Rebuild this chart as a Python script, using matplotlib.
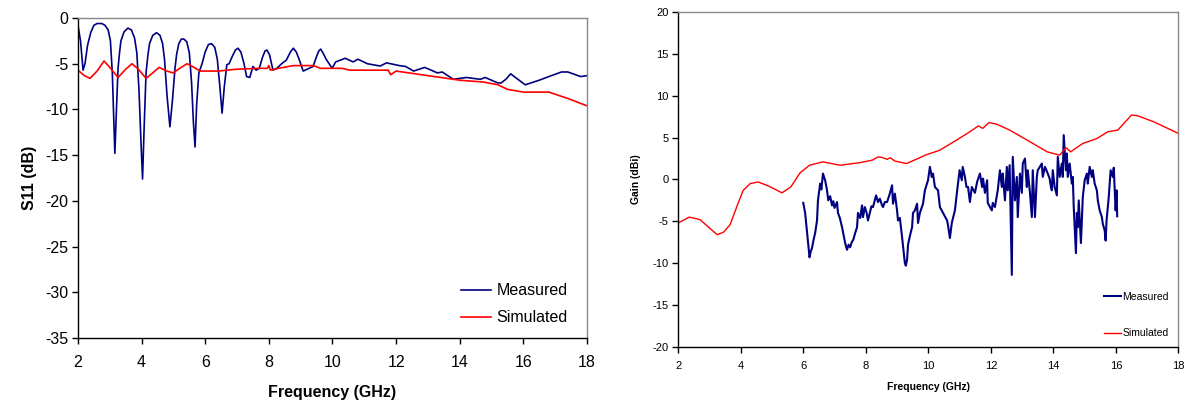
import matplotlib.pyplot as plt
import numpy as np

plt.rcParams['font.family'] = ['Liberation Sans', 'DejaVu Sans']
plt.rcParams['axes.unicode_minus'] = False

NAVY = '#000080'
RED = '#ff0000'

# ---- return loss (left) ----
s11_meas_f = [2.0, 2.08, 2.16, 2.22, 2.3, 2.4, 2.5, 2.6, 2.75, 2.85, 2.95, 3.02, 3.08, 3.12, 3.16,
              3.21, 3.26, 3.3, 3.35, 3.45, 3.57, 3.68, 3.78, 3.85, 3.92, 3.98, 4.03, 4.08,
              4.14, 4.2, 4.25, 4.35, 4.47, 4.58, 4.66, 4.72, 4.8, 4.89, 4.97, 5.05, 5.1,
              5.17, 5.25, 5.33, 5.42, 5.5, 5.57, 5.63, 5.68, 5.73, 5.8, 5.9, 6.0, 6.1, 6.2,
              6.3, 6.38, 6.46, 6.53, 6.6, 6.68, 6.75, 6.85, 6.95, 7.03, 7.12, 7.22, 7.3,
              7.4, 7.5, 7.6, 7.7, 7.8, 7.88, 7.94, 8.02, 8.13, 8.25, 8.4, 8.55, 8.68, 8.77,
              8.86, 8.95, 9.08, 9.2, 9.39, 9.5, 9.57, 9.63, 9.7, 9.8, 9.99, 10.1, 10.4,
              10.65, 10.8, 11.1, 11.5, 11.7, 12.1, 12.3, 12.55, 12.9, 13.3, 13.45, 13.8,
              14.2, 14.65, 14.8, 15.2, 15.3, 15.45, 15.6, 15.75, 16.06, 16.5, 16.8, 17.2,
              17.4, 17.8, 18.0]
s11_meas = [-0.8, -2.5, -5.7, -5.0, -3.0, -1.6, -0.8, -0.6, -0.6, -0.8, -1.3, -2.5, -6.0, -10.5, -14.8,
            -10.0, -5.5, -4.0, -2.5, -1.5, -1.1, -1.3, -2.2, -3.8, -8.0, -13.5, -17.6, -12.0,
            -6.0, -4.0, -2.8, -1.9, -1.6, -1.9, -2.8, -4.5, -8.5, -11.9, -9.0, -5.5, -4.0,
            -2.8, -2.3, -2.3, -2.6, -3.8, -7.0, -11.5, -14.1, -9.5, -6.0, -5.0, -3.7, -2.9, -2.8,
            -3.2, -4.5, -7.5, -10.4, -7.5, -5.1, -5.0, -4.2, -3.5, -3.3, -3.7, -5.0, -6.4,
            -6.5, -5.3, -5.7, -5.5, -4.3, -3.6, -3.5, -4.0, -5.7, -5.5, -5.0, -4.6, -3.7, -3.3,
            -3.7, -4.5, -5.8, -5.6, -5.3, -4.2, -3.6, -3.4, -3.8, -4.5, -5.5, -4.8, -4.4,
            -4.8, -4.5, -5.0, -5.25, -4.9, -5.2, -5.3, -5.8, -5.4, -6.0, -5.9, -6.7,
            -6.5, -6.7, -6.5, -7.1, -7.1, -6.7, -6.1, -6.5, -7.3, -6.8, -6.4, -5.9,
            -5.9, -6.4, -6.3]

s11_sim_f = [2.0, 2.2, 2.38, 2.6, 2.82, 3.0, 3.26, 3.5, 3.7, 3.9, 4.14, 4.35, 4.55, 4.8, 4.99,
             5.2, 5.43, 5.65, 5.84, 6.4, 6.97, 7.7, 7.95, 8.0, 8.05, 8.3, 8.77, 9.4, 9.63,
             10.3, 10.55, 11.5, 11.75, 11.83, 12.0, 12.4, 13.2, 14.0, 14.75, 15.2, 15.5,
             16.0, 16.8, 17.4, 18.0]
s11_sim = [-5.7, -6.3, -6.6, -5.8, -4.7, -5.4, -6.5, -5.6, -5.0, -5.6, -6.6, -6.0, -5.4, -5.8, -6.0,
           -5.5, -5.0, -5.4, -5.8, -5.8, -5.6, -5.5, -5.5, -5.2, -5.7, -5.5, -5.2, -5.2, -5.5,
           -5.5, -5.7, -5.7, -5.7, -6.2, -5.8, -6.0, -6.4, -6.8, -7.0, -7.3, -7.8,
           -8.1, -8.1, -8.8, -9.6]

# ---- gain (right) ----
gain_sim_f = [2.0, 2.35, 2.7, 3.0, 3.25, 3.45, 3.66, 3.9, 4.08, 4.3, 4.56, 4.9, 5.32, 5.6, 5.9,
              6.2, 6.63, 6.9, 7.18, 7.8, 8.2, 8.4, 8.55, 8.68, 8.78, 8.93, 9.3, 9.73, 9.9,
              10.37, 10.9, 11.33, 11.6, 11.74, 11.94, 12.19, 12.6, 13.25, 13.8, 14.2, 14.4,
              14.55, 14.94, 15.4, 15.74, 16.06, 16.5, 16.7, 17.2, 18.0]
gain_sim = [-5.2, -4.5, -4.8, -5.8, -6.6, -6.3, -5.4, -3.0, -1.3, -0.5, -0.3, -0.8, -1.6, -0.9, 0.8,
            1.7, 2.1, 1.9, 1.7, 2.0, 2.3, 2.7, 2.6, 2.4, 2.6, 2.2, 1.9, 2.6, 2.9,
            3.5, 4.7, 5.7, 6.4, 6.1, 6.8, 6.6, 5.9, 4.5, 3.3, 2.9, 3.8,
            3.3, 4.3, 4.9, 5.7, 5.9, 7.7, 7.6, 6.9, 5.5]

gain_meas_f = [6.0, 6.06, 6.12, 6.2, 6.24, 6.28, 6.33, 6.38, 6.44, 6.47, 6.54, 6.58, 6.63, 6.7,
               6.76, 6.8, 6.86, 6.92, 6.96, 7.0, 7.08, 7.11, 7.17, 7.24, 7.34, 7.4, 7.45, 7.5,
               7.55, 7.6, 7.66, 7.72, 7.75, 7.82, 7.88, 7.91, 7.97, 8.02, 8.07, 8.13, 8.18,
               8.23, 8.33, 8.39, 8.45, 8.52, 8.55, 8.61, 8.68, 8.76, 8.84, 8.87, 8.93, 9.0,
               9.03, 9.09, 9.16, 9.25, 9.28, 9.32, 9.35, 9.42, 9.48, 9.51, 9.57, 9.64, 9.67,
               9.73, 9.83, 9.89, 9.99, 10.05, 10.11, 10.15, 10.21, 10.31, 10.37, 10.47, 10.6,
               10.63, 10.69, 10.75, 10.85, 10.91, 11.0, 11.07, 11.1, 11.17, 11.22, 11.27,
               11.33, 11.39, 11.49, 11.56, 11.65, 11.72, 11.75, 11.81, 11.88, 11.9, 12.03,
               12.06, 12.13, 12.22, 12.29, 12.35, 12.38, 12.45, 12.51, 12.54, 12.6, 12.67,
               12.7, 12.77, 12.83, 12.86, 12.93, 12.99, 13.02, 13.09, 13.15, 13.18, 13.25,
               13.31, 13.34, 13.41, 13.47, 13.5, 13.63, 13.66, 13.73, 13.82, 13.88, 13.92,
               13.95, 13.98, 14.04, 14.11, 14.14, 14.2, 14.27, 14.3, 14.33, 14.4, 14.43,
               14.46, 14.52, 14.59, 14.62, 14.65, 14.72, 14.75, 14.78, 14.81, 14.88, 14.91,
               14.94, 15.0, 15.07, 15.1, 15.16, 15.23, 15.26, 15.32, 15.39, 15.42, 15.48,
               15.55, 15.58, 15.64, 15.67, 15.7, 15.77, 15.83, 15.9, 15.93, 15.96, 15.99,
               16.02, 16.04]
gain_meas = [-2.8, -4.0, -6.3, -9.3, -8.6, -8.2, -7.2, -6.4, -4.9, -2.5, -0.5, -1.2, 0.7, -0.1,
             -1.3, -2.5, -2.0, -3.1, -2.6, -3.4, -2.7, -4.0, -4.6, -5.7, -7.6, -8.4, -7.8, -8.1,
             -7.5, -7.2, -6.4, -5.7, -4.0, -4.6, -3.1, -4.5, -3.3, -3.9, -4.9, -4.0, -3.2,
             -3.3, -1.9, -2.7, -2.3, -3.1, -3.3, -2.7, -2.7, -1.8, -0.7, -2.9, -1.7, -3.7,
             -4.9, -4.6, -6.9, -10.0, -10.3, -9.6, -7.8, -6.6, -5.7, -4.0, -3.7, -2.9, -5.2,
             -4.0, -2.9, -1.3, -0.1, 1.5, 0.3, 0.7, -0.9, -1.3, -3.3, -4.0, -4.9,
             -5.5, -7.0, -5.2, -3.7, -1.7, 1.1, -0.1, 1.5, 0.3, -0.9, -0.9,
             -2.7, -0.9, -1.6, -0.3, 0.7, -0.9, 0.1, -1.6, -0.1, -2.8, -3.7,
             -2.8, -3.3, -1.3, 1.1, -0.9, 0.7, -2.5, 1.5, -1.3, 1.7, -11.4,
             2.7, -2.5, 0.3, -4.5, 0.7, -1.6, 1.9, 2.5, -0.9, 1.1, -1.6,
             -4.5, 1.1, -4.5, 0.3, 1.1, 1.9, 0.3, 1.5, 0.7, 0.1, -0.9,
             -1.3, 1.1, -0.9, -1.9, 2.7, 0.3, 1.9, 0.3, 5.3, 1.1, 3.1,
             0.3, 1.9, -0.5, 0.3, -3.3, -8.8, -4.0, -5.7, -2.5, -7.6, -4.9,
             -2.1, -0.1, 0.7, -0.5, 1.5, 0.3, 1.1, -0.5, -1.3, -2.5, -3.7,
             -4.5, -5.3, -6.1, -7.3, -4.9, -2.1, 1.1, 0.3, 1.4, -1.3, -3.7,
             -1.3, -4.4]

fig = plt.figure(figsize=(11.94, 4.01), dpi=100)
ax1 = fig.add_axes([0.0653, 0.157, 0.4263, 0.798])
ax2 = fig.add_axes([0.568, 0.135, 0.419, 0.835])


def style_axes(ax, size):
    for side in ('left', 'bottom'):
        ax.spines[side].set_color('black')
        ax.spines[side].set_linewidth(1.0)
    for side in ('top', 'right'):
        ax.spines[side].set_color('#888888')
        ax.spines[side].set_linewidth(1.0)
    ax.tick_params(direction='out', length=4, width=1, labelsize=size, pad=3)


ax1.plot(s11_meas_f, s11_meas, color=NAVY, lw=1.2, label='Measured')
ax1.plot(s11_sim_f, s11_sim, color=RED, lw=1.2, label='Simulated')
ax1.set_xlim(2, 18)
ax1.set_ylim(-35, 0)
ax1.set_xticks(np.arange(2, 19, 2))
ax1.set_yticks(np.arange(-35, 1, 5))
style_axes(ax1, 11.5)
ax1.tick_params(axis='x', pad=8)
ax1.set_xlabel('Frequency (GHz)', fontsize=11.5, fontweight='bold', labelpad=11)
ax1.set_ylabel('S11 (dB)', fontsize=11.5, fontweight='bold', labelpad=6)
ax1.legend(loc='lower right', frameon=False, fontsize=11.5, handlelength=1.9,
           handletextpad=0.3, labelspacing=0.75, bbox_to_anchor=(0.99, -0.005))

ax2.plot(gain_meas_f, gain_meas, color=NAVY, lw=1.5, label='Measured')
ax2.plot(gain_sim_f, gain_sim, color=RED, lw=1.0, label='Simulated')
ax2.set_xlim(2, 18)
ax2.set_ylim(-20, 20)
ax2.set_xticks(np.arange(2, 19, 2))
ax2.set_yticks(np.arange(-20, 21, 5))
style_axes(ax2, 8)
ax2.tick_params(axis='x', pad=6)
ax2.set_xlabel('Frequency (GHz)', fontsize=7.5, fontweight='bold', labelpad=8)
ax2.set_ylabel('Gain (dBi)', fontsize=7.5, fontweight='bold', labelpad=8)
ax2.legend(loc='lower right', frameon=False, fontsize=7.5, handlelength=1.6,
           handletextpad=0.2, labelspacing=2.5, bbox_to_anchor=(1.0, -0.002))

fig.savefig('out.png', dpi=100)
